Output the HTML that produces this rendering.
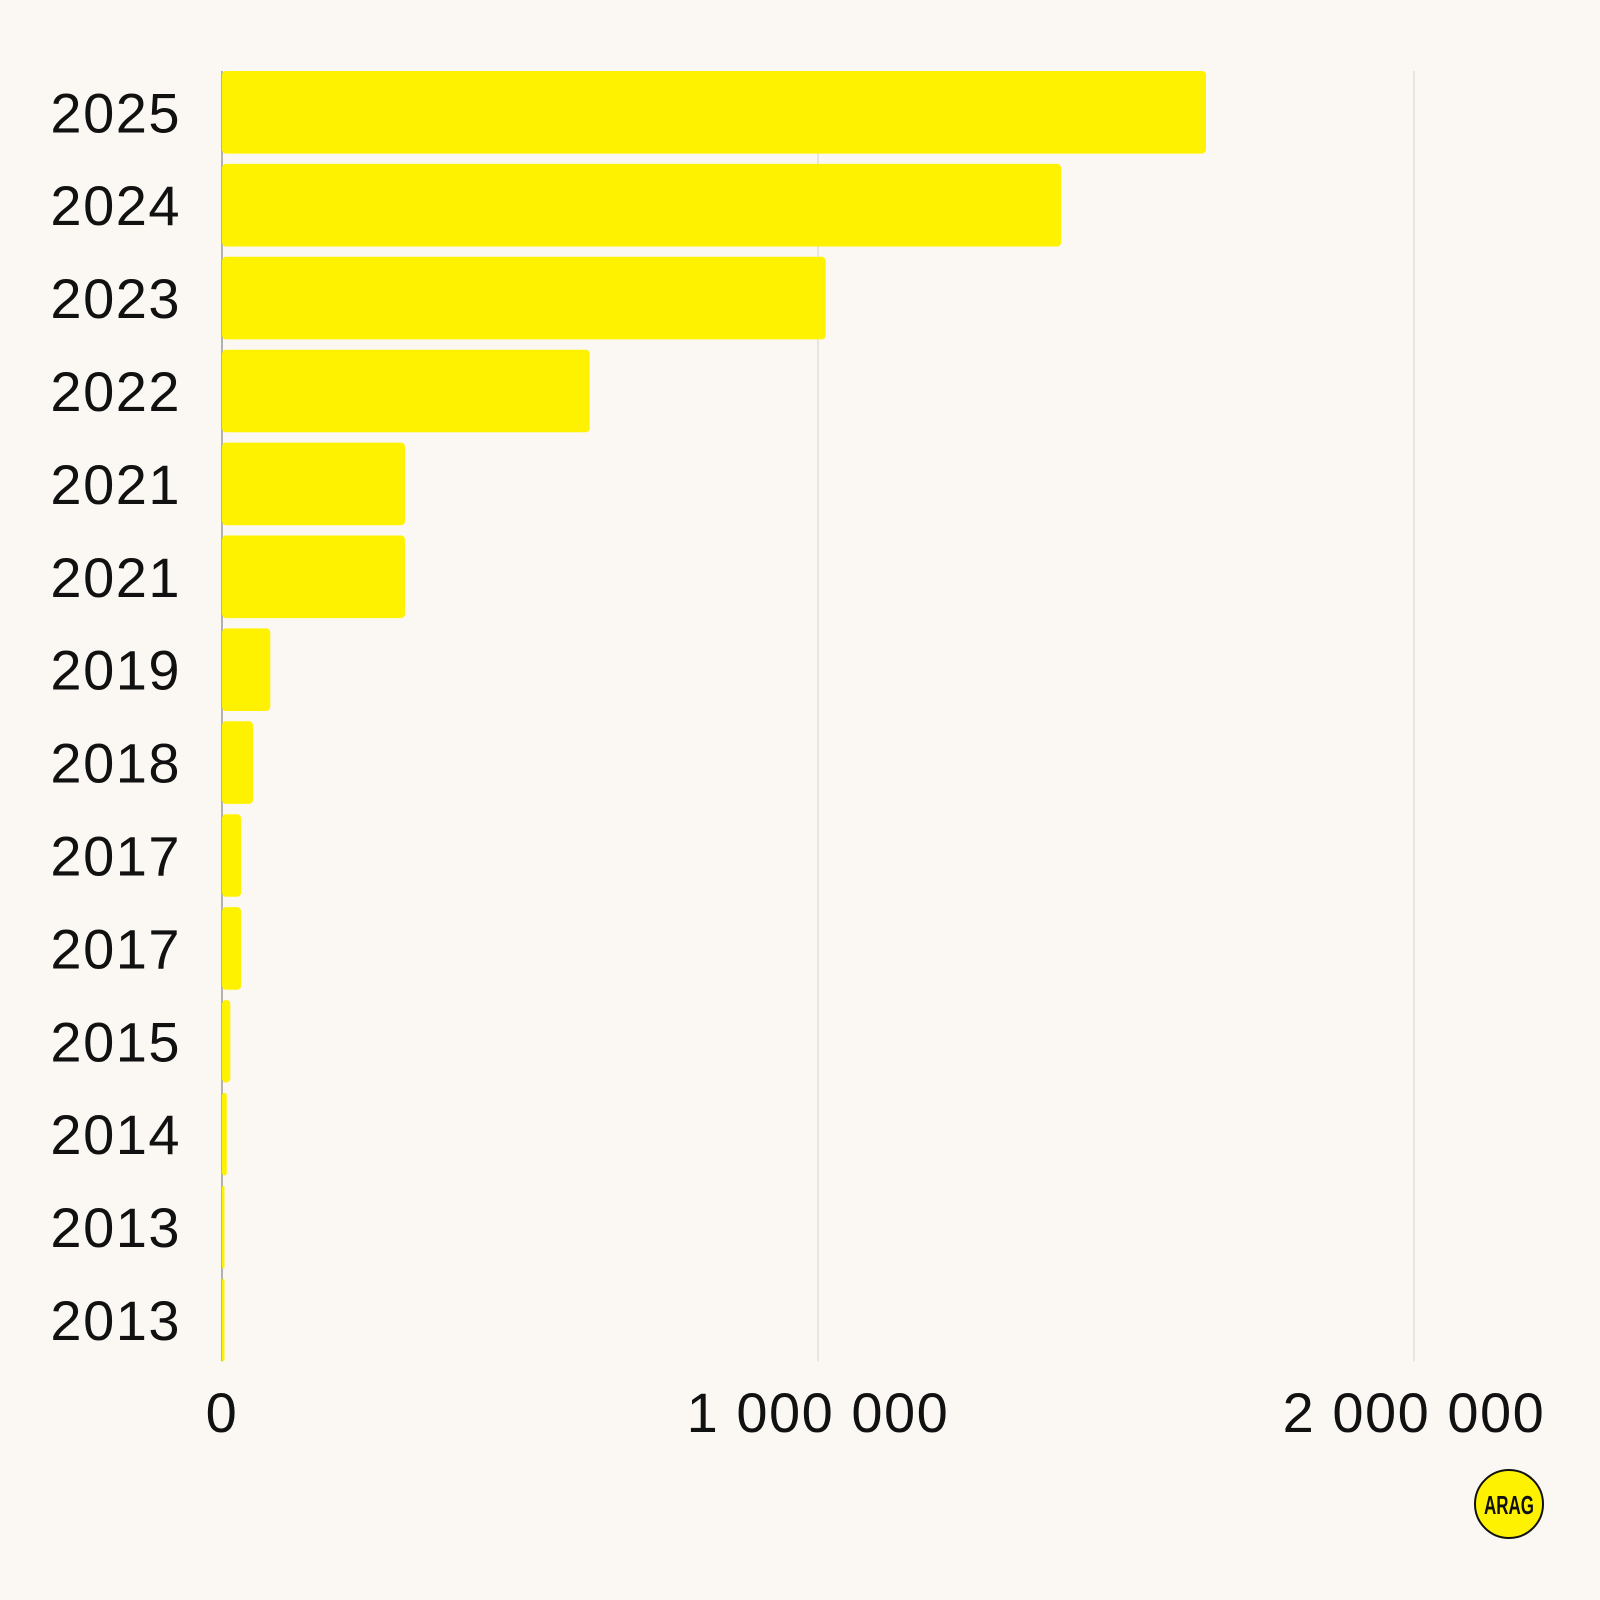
<!DOCTYPE html>
<html><head><meta charset="utf-8"><style>
html,body{margin:0;padding:0;background:#fbf8f3;}
svg{display:block;}
text{font-family:"Liberation Sans",sans-serif;fill:#111;}
</style></head><body>
<svg id="chart" width="1600" height="1600" viewBox="0 0 1600 1600" xmlns="http://www.w3.org/2000/svg">
<rect width="1600" height="1600" fill="#fbf8f3"/>
<g id="grid"></g><g id="bars"></g><g id="ylabels"></g><g id="xlabels"></g>
<g>
<circle cx="1509" cy="1504" r="34" fill="#fff200" stroke="#111" stroke-width="2"/>
<text x="1509" y="1514" text-anchor="middle" font-size="26" font-weight="bold" textLength="50" lengthAdjust="spacingAndGlyphs">ARAG</text>
</g>
</svg>
<script>
const categories = ["2025","2024","2023","2022","2021","2021","2019","2018","2017","2017","2015","2014","2013","2013"];
const values = [1651000,1408000,1013000,617000,307000,307000,81000,52000,32000,32000,14000,8000,4000,3000];
const tickValues = [0,1000000,2000000];
const tickLabels = ["0","1 000 000","2 000 000"];

const NS="http://www.w3.org/2000/svg";
const x0=222, pxPerUnit=596/1000000;
const top0=71, step=92.9, barH=82.6;
function xScale(v){return x0+v*pxPerUnit;}
function yBand(i){return top0+i*step;}
const gridBottom=yBand(categories.length-1)+barH;
const grid=document.getElementById('grid');
tickValues.forEach((t,i)=>{
  const l=document.createElementNS(NS,'line');
  l.setAttribute('x1',xScale(t));l.setAttribute('x2',xScale(t));
  l.setAttribute('y1',top0);l.setAttribute('y2',gridBottom);
  l.setAttribute('stroke',i===0?'#999':'#d4d1cc');l.setAttribute('stroke-width',i===0?1.5:1);
  
  
  grid.appendChild(l);
  const tx=document.createElementNS(NS,'text');
  tx.setAttribute('x',xScale(t));tx.setAttribute('y',1432);
  tx.setAttribute('text-anchor','middle');tx.setAttribute('font-size','56');
  tx.setAttribute('letter-spacing','1.5');
  tx.textContent=tickLabels[i];
  
  
  document.getElementById('xlabels').appendChild(tx);
});
const bars=document.getElementById('bars'), yl=document.getElementById('ylabels');
categories.forEach((c,i)=>{
  const w=Math.max(xScale(values[i])-x0,2.5);
  const r=document.createElementNS(NS,'rect');
  r.setAttribute('x',x0);r.setAttribute('y',yBand(i));
  r.setAttribute('width',w);r.setAttribute('height',barH);
  r.setAttribute('rx',Math.min(4,w/2));r.setAttribute('fill','#fff200');
  
  
  bars.appendChild(r);
  const t=document.createElementNS(NS,'text');
  t.setAttribute('x',181);t.setAttribute('y',yBand(i)+barH/2+20);
  t.setAttribute('text-anchor','end');t.setAttribute('font-size','56');
  t.setAttribute('letter-spacing','1.5');
  t.textContent=c;
  
  
  yl.appendChild(t);
});
</script>
</body></html>
